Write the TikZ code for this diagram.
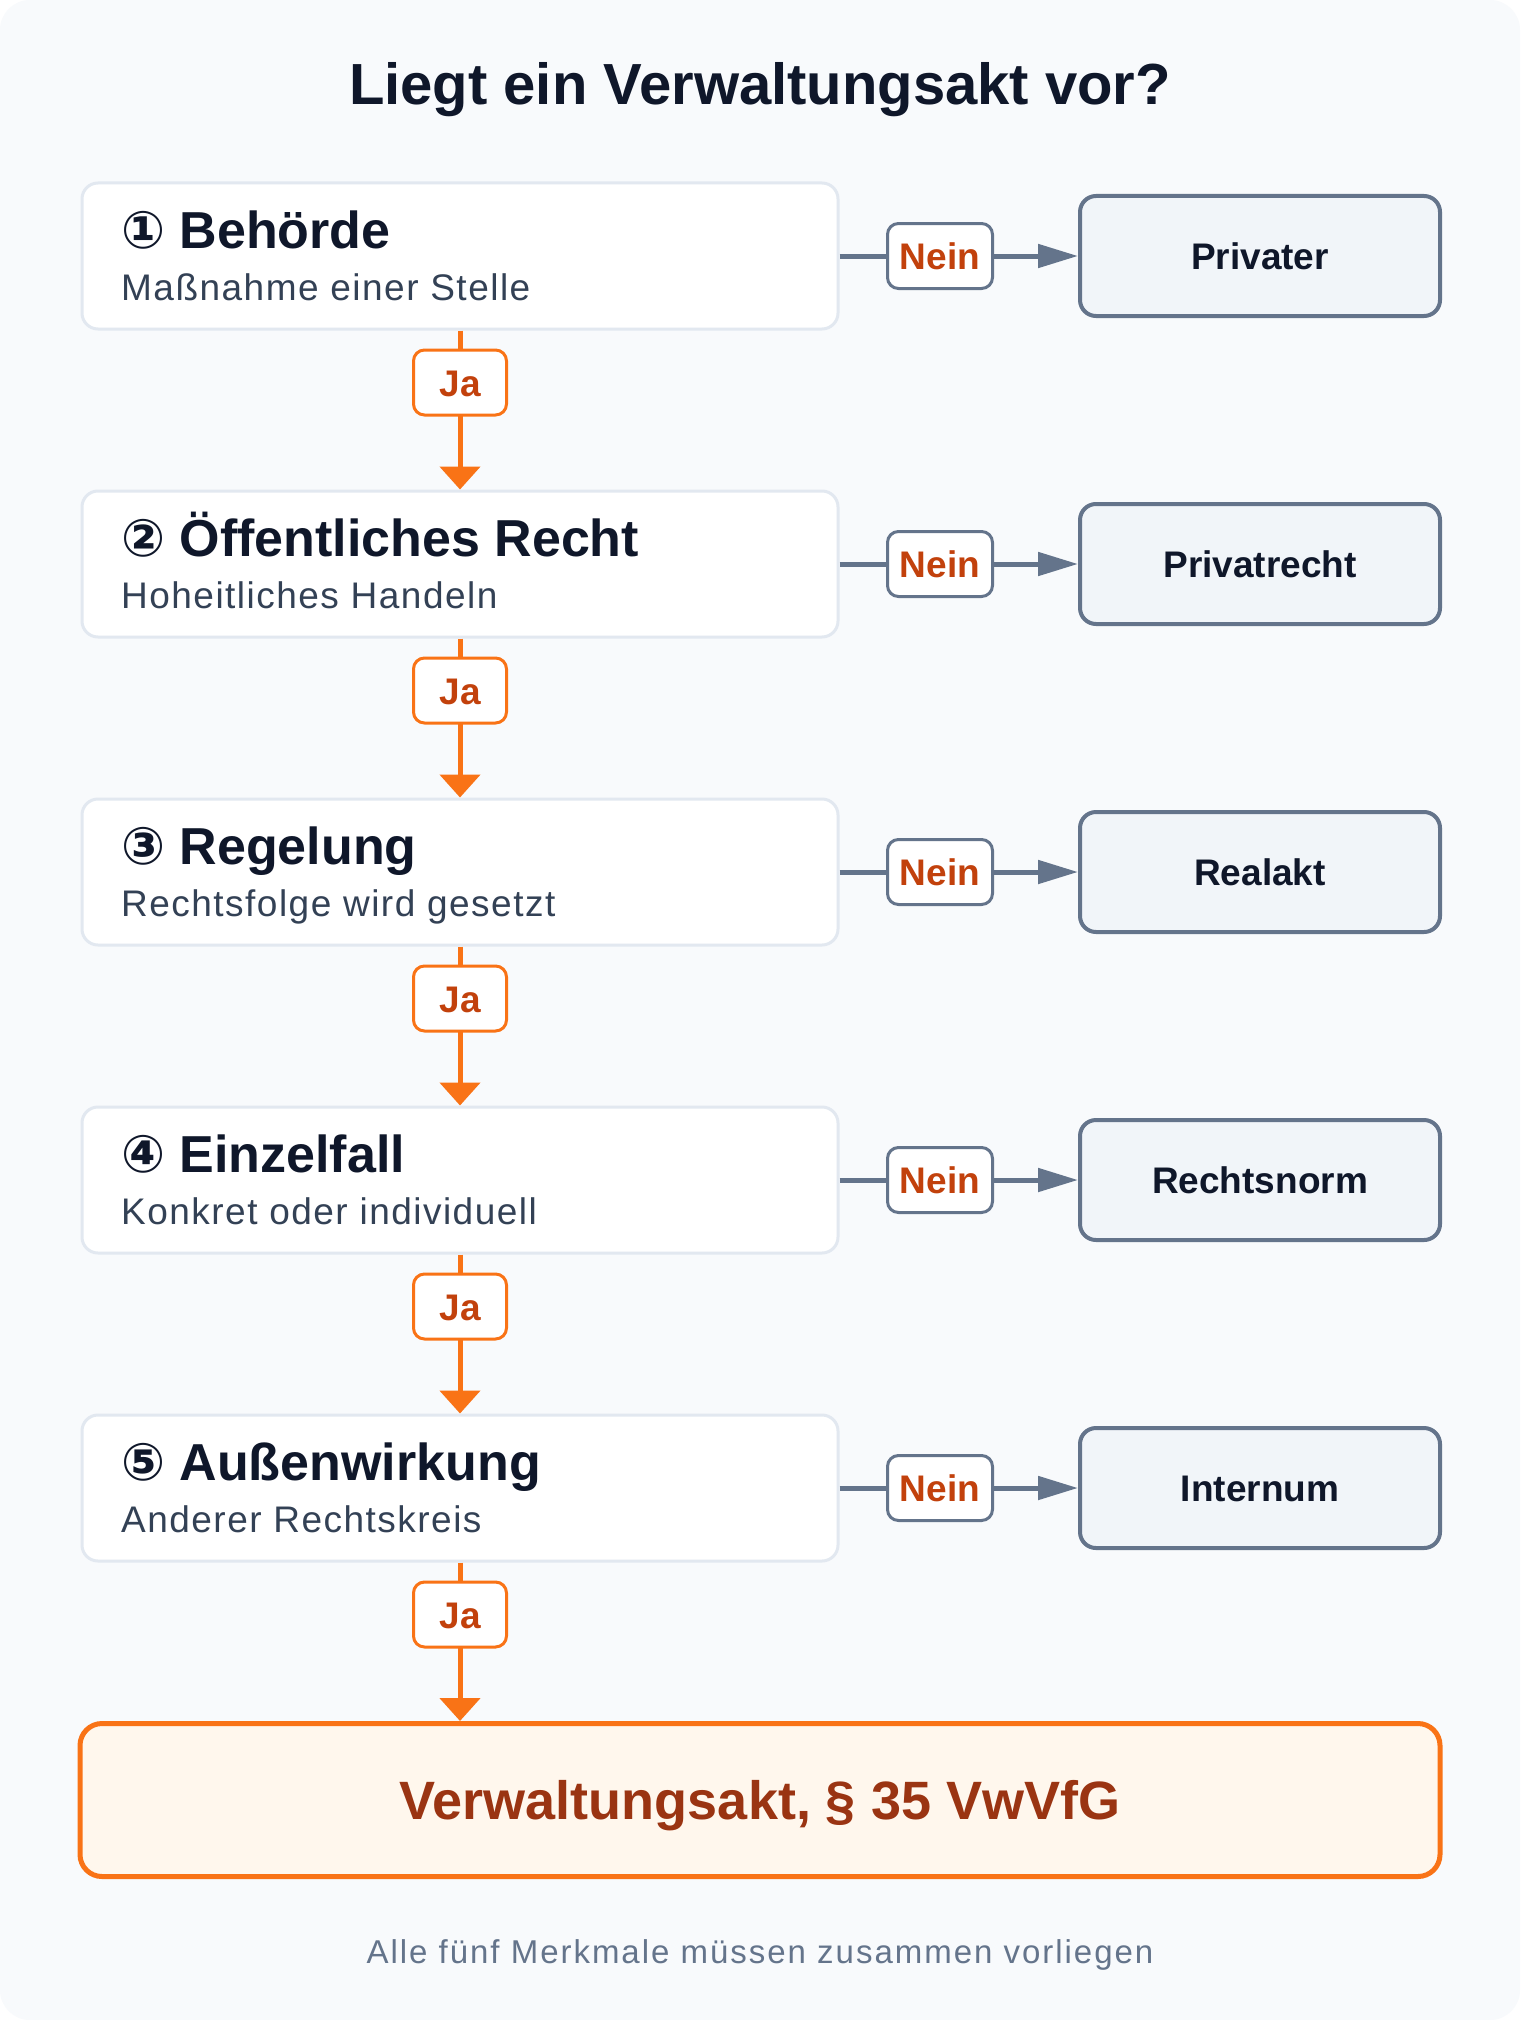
\documentclass[tikz,border=0pt]{standalone}
\usepackage{fontspec}
\setmainfont{Liberation Sans}
\newfontfamily\circfont{DejaVu Sans}
\newfontfamily\spacedfont{Liberation Sans}[LetterSpace=4]
\newfontfamily\notefont{Liberation Sans}[LetterSpace=6]
\usetikzlibrary{arrows.meta}
\definecolor{PageBg}{HTML}{F8FAFC}
\definecolor{Ink}{HTML}{0F172A}
\definecolor{SubInk}{HTML}{334155}
\definecolor{StepLine}{HTML}{E2E8F0}
\definecolor{Slate}{HTML}{64748B}
\definecolor{OutFill}{HTML}{F1F5F9}
\definecolor{Orange}{HTML}{F97316}
\definecolor{LabelInk}{HTML}{C2410C}
\definecolor{ResultFill}{HTML}{FFF7ED}
\definecolor{ResultInk}{HTML}{9A3412}
\tikzset{
    stepbox/.style={draw=StepLine, line width=3pt, fill=white, rounded corners=16pt,
        minimum width=756pt, minimum height=146pt, inner sep=0pt},
    headtext/.style={font=\fontsize{52}{60}\selectfont\bfseries, text=Ink, inner sep=0pt},
    subtext/.style={font=\spacedfont\fontsize{37}{44}\selectfont, text=SubInk, inner sep=0pt},
    outbox/.style={draw=Slate, line width=4pt, fill=OutFill, rounded corners=16pt,
        minimum width=360pt, minimum height=120pt, inner sep=0pt,
        font=\fontsize{37}{44}\selectfont\bfseries, text=Ink, text height=27pt, text depth=0pt},
    neinlabel/.style={draw=Slate, line width=3pt, fill=white, rounded corners=11pt,
        minimum width=105pt, minimum height=65pt, inner sep=0pt,
        font=\fontsize{37}{44}\selectfont\bfseries, text=LabelInk, text height=27pt, text depth=0pt},
    jalabel/.style={neinlabel, draw=Orange, minimum width=93pt},
    neinline/.style={draw=Slate, line width=5pt, -{Triangle[length=40pt,width=23pt]}},
    jaline/.style={draw=Orange, line width=5pt, -{Triangle[length=23pt,width=40pt]}},
}
% name, y, number, heading, subline, outcome
\newcommand\CheckRow[6]{%
    \node[stepbox] (#1) at (460,#2) {};
    \node[headtext, anchor=base west] (#1head) at (121,#2-8) {{\circfont #3} #4};
    \node[subtext, anchor=base west] (#1sub) at (121,#2+44) {#5};
    \node[outbox] (#1out) at (1260,#2) {#6};
    \draw[neinline] (#1.east) -- (#1out.west);
    \node[neinlabel] (#1nein) at (940,#2) {Nein};
}
% from, to
\newcommand\YesArrow[2]{%
    \draw[jaline] (#1.south) -- (#2.north);
    \node[jalabel] (#1ja) at ([yshift=-52pt]#1.south) {Ja};
}

\begin{document}
\begin{tikzpicture}[x=1pt, y=-1pt]
    \useasboundingbox (0,0) rectangle (1520,2020);
    \fill[white] (0,0) rectangle (1520,2020);
    \fill[PageBg, rounded corners=30pt] (0,0) rectangle (1520,2020);

    \node[font=\fontsize{58}{70}\selectfont\bfseries, text=Ink, anchor=base] (title) at (760,105)
        {Liegt ein Verwaltungsakt vor?};

    \CheckRow{s1}{256}{①}{Behörde}{Maßnahme einer Stelle}{Privater}
    \CheckRow{s2}{564}{②}{Öffentliches Recht}{Hoheitliches Handeln}{Privatrecht}
    \CheckRow{s3}{872}{③}{Regelung}{Rechtsfolge wird gesetzt}{Realakt}
    \CheckRow{s4}{1180}{④}{Einzelfall}{Konkret oder individuell}{Rechtsnorm}
    \CheckRow{s5}{1488}{⑤}{Außenwirkung}{Anderer Rechtskreis}{Internum}

    % result
    \node[draw=Orange, line width=5pt, fill=ResultFill, rounded corners=22pt,
        minimum width=1360pt, minimum height=153pt, inner sep=0pt,
        font=\fontsize{54}{62}\selectfont\bfseries, text=ResultInk, text height=39pt, text depth=0pt]
        (va) at (760,1800) {Verwaltungsakt, § 35 VwVfG};

    \YesArrow{s1}{s2}
    \YesArrow{s2}{s3}
    \YesArrow{s3}{s4}
    \YesArrow{s4}{s5}
    \draw[jaline] (s5.south) -- (s5.south |- va.north);
    \node[jalabel] (s5ja) at ([yshift=-52pt]s5.south) {Ja};

    \node[font=\notefont\fontsize{33}{40}\selectfont, text=Slate, anchor=base] (note) at (760,1963)
        {Alle fünf Merkmale müssen zusammen vorliegen};
\end{tikzpicture}
\end{document}
